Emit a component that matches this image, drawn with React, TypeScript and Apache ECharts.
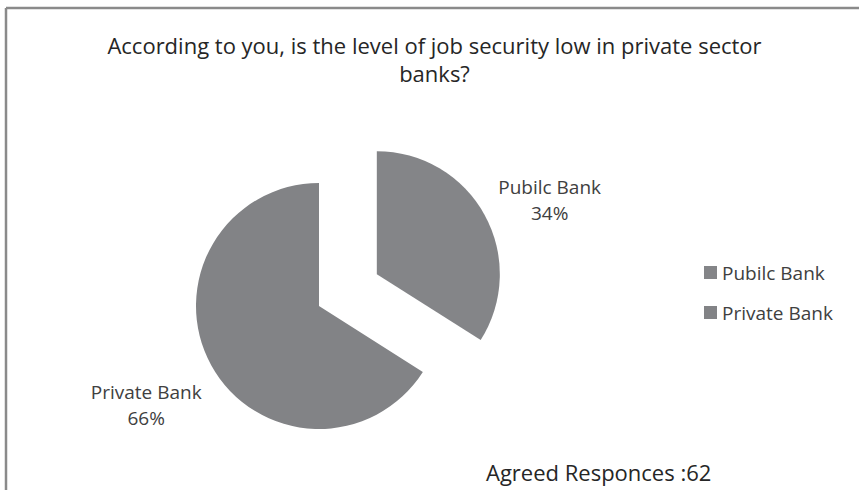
import React, { useEffect, useRef } from "react";
import * as echarts from "echarts";

const titleText = "According to you, is the level of job security low in private sector\nbanks?";
const footnote = "Agreed Responces :62";
const categories = ["Pubilc Bank", "Private Bank"];
const shares = [34, 66];
const sliceColors = ["#848588", "#828386"];

const FONT = "'Open Sans', 'Noto Sans', sans-serif";

export default function App() {
  const ref = useRef<HTMLDivElement>(null);
  useEffect(() => {
    if (!ref.current) return;
    const chart = echarts.init(ref.current, undefined, { renderer: "svg" });
    const labelPads = [
      [0, 0, 30, 0],
      [80, 0, 0, 0],
    ];
    chart.setOption({
      animation: false,
      backgroundColor: "#ffffff",
      title: [
        {
          text: titleText,
          left: "50%",
          top: 26,
          textAlign: "center",
          textStyle: {
            fontFamily: FONT,
            fontSize: 22,
            fontWeight: "normal",
            color: "#262626",
            lineHeight: 28,
          },
        },
        {
          text: footnote,
          left: 481,
          top: 456,
          textStyle: {
            fontFamily: FONT,
            fontSize: 22,
            fontWeight: "normal",
            color: "#262626",
          },
        },
      ],
      legend: {
        orient: "vertical",
        left: 699,
        top: 258,
        icon: "rect",
        itemWidth: 13,
        itemHeight: 13,
        itemGap: 21,
        data: categories,
        textStyle: { fontFamily: FONT, fontSize: 19, color: "#404040" },
      },
      graphic: [
        { type: "line", shape: { x1: 6, y1: 8, x2: 859, y2: 8 }, style: { stroke: "#8a8a8a", lineWidth: 2.5 } },
        { type: "line", shape: { x1: 6, y1: 8, x2: 6, y2: 490 }, style: { stroke: "#8a8a8a", lineWidth: 2.5 } },
      ],
      series: [
        {
          type: "pie",
          center: [319, 306],
          radius: 123,
          startAngle: 90,
          clockwise: true,
          selectedMode: "single",
          selectedOffset: 66,
          avoidLabelOverlap: false,
          emphasis: { disabled: true },
          label: {
            show: true,
            position: "outside",
            alignTo: "none",
            distanceToLabelLine: 5,
            formatter: "{t|{b}}\n{t|{d}%}",
            rich: {
              t: {
                width: 120,
                align: "center",
                fontFamily: FONT,
                fontSize: 19,
                lineHeight: 26,
                color: "#404040",
              },
            },
          },
          labelLine: { show: false, length: 0, length2: 0 },
          data: categories.map((name, i) => ({
            name,
            value: shares[i],
            selected: i === 0,
            itemStyle: { color: sliceColors[i] },
            label: { padding: labelPads[i] },
          })),
        },
      ],
    });
    return () => chart.dispose();
  }, []);
  return (
    <div
      ref={ref}
      style={{ position: "absolute", left: 0, top: 0, width: 859, height: 490 }}
    />
  );
}
